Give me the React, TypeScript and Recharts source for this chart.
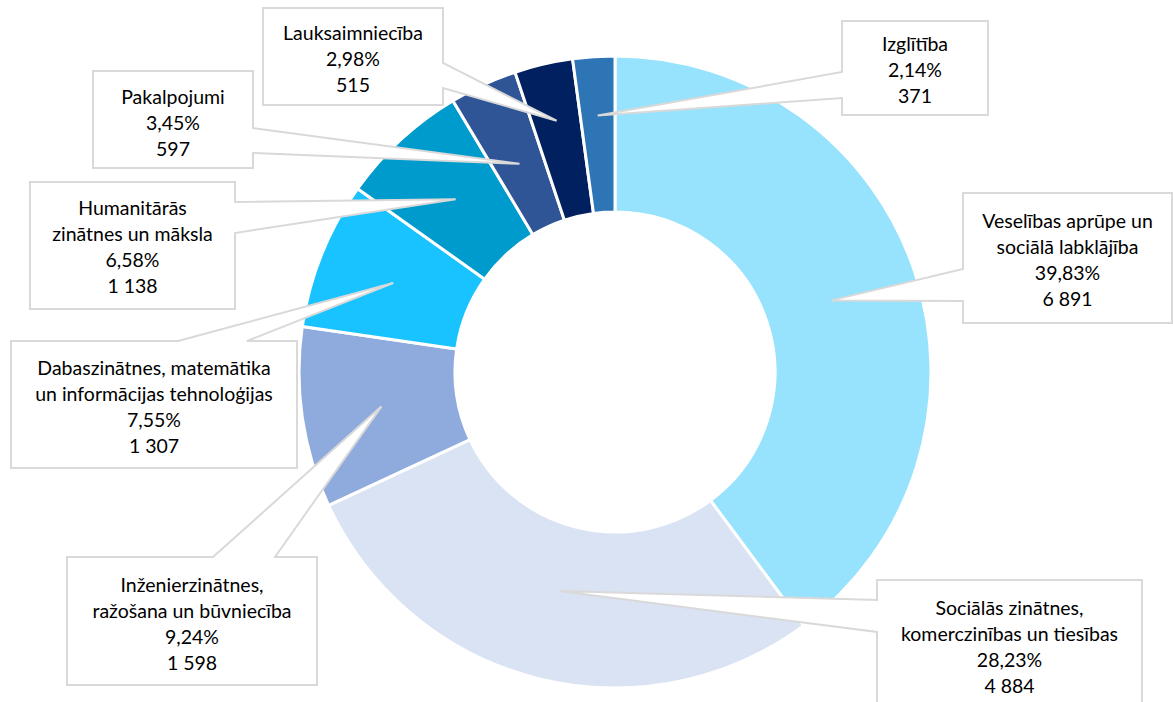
import { PieChart, Pie, Cell } from "recharts";

const categories = [
  "Veselības aprūpe un sociālā labklājība",
  "Sociālās zinātnes, komerczinības un tiesības",
  "Inženierzinātnes, ražošana un būvniecība",
  "Dabaszinātnes, matemātika un informācijas tehnoloģijas",
  "Humanitārās zinātnes un māksla",
  "Pakalpojumi",
  "Lauksaimniecība",
  "Izglītība",
];

const students = [6891, 4884, 1598, 1307, 1138, 597, 515, 371];

// how each category name wraps inside its callout box
const nameLines = [
  ["Veselības aprūpe un", "sociālā labklājība"],
  ["Sociālās zinātnes,", "komerczinības un tiesības"],
  ["Inženierzinātnes,", "ražošana un būvniecība"],
  ["Dabaszinātnes, matemātika", "un informācijas tehnoloģijas"],
  ["Humanitārās", "zinātnes un māksla"],
  ["Pakalpojumi"],
  ["Lauksaimniecība"],
  ["Izglītība"],
];

const colors = ["#97E2FC", "#DAE3F3", "#8FAADC", "#19C3FF", "#009BCD", "#2F5597", "#002060", "#2E75B6"];

type Side = "left" | "right" | "top";

interface CalloutBox {
  x0: number;
  y0: number;
  x1: number;
  y1: number;
  side: Side;
  b1: number;
  b2: number;
  tipR: number;
  textY: number;
}

// callout box placement (Excel-style data callouts)
const boxes: CalloutBox[] = [
  { x0: 963, y0: 193, x1: 1172, y1: 323, side: "left", b1: 269, b2: 301, tipR: 228, textY: 220 },
  { x0: 877, y0: 580, x1: 1142, y1: 712, side: "left", b1: 600, b2: 632, tipR: 226, textY: 607 },
  { x0: 67, y0: 557, x1: 317, y1: 685, side: "top", b1: 213, b2: 275, tipR: 236, textY: 584 },
  { x0: 11, y0: 341, x1: 297, y1: 468, side: "top", b1: 178, b2: 247, tipR: 239, textY: 367 },
  { x0: 30, y0: 182, x1: 235, y1: 309, side: "right", b1: 202, b2: 233, tipR: 235, textY: 207 },
  { x0: 93, y0: 71, x1: 253, y1: 168, side: "right", b1: 128, b2: 153, tipR: 229, textY: 96 },
  { x0: 263, y0: 8, x1: 443, y1: 105, side: "right", b1: 63, b2: 88, tipR: 258, textY: 32 },
  { x0: 842, y0: 21, x1: 988, y1: 115, side: "left", b1: 72, b2: 98, tipR: 257, textY: 43 },
];

const total = students.reduce((a, b) => a + b, 0);
const data = categories.map((name, i) => ({ name, value: students[i] }));

const fmtPct = (v: number) => ((v / total) * 100).toFixed(2).replace(".", ",") + "%";
const fmtNum = (v: number) => String(v).replace(/\B(?=(\d{3})+(?!\d))/g, " ");

function calloutPath(b: CalloutBox, tx: number, ty: number) {
  const { x0, y0, x1, y1, b1, b2 } = b;
  if (b.side === "right") {
    return `M${x0},${y0} L${x1},${y0} L${x1},${b1} L${tx},${ty} L${x1},${b2} L${x1},${y1} L${x0},${y1} Z`;
  }
  if (b.side === "left") {
    return `M${x0},${y0} L${x1},${y0} L${x1},${y1} L${x0},${y1} L${x0},${b2} L${tx},${ty} L${x0},${b1} Z`;
  }
  return `M${x0},${y0} L${b1},${y0} L${tx},${ty} L${b2},${y0} L${x1},${y0} L${x1},${y1} L${x0},${y1} Z`;
}

const RAD = Math.PI / 180;

function renderCallout(props: any) {
  const { cx, cy, midAngle, index, value } = props;
  const box = boxes[index];
  const tx = cx + box.tipR * Math.cos(-midAngle * RAD);
  const ty = cy + box.tipR * Math.sin(-midAngle * RAD);
  const lines = [...nameLines[index], fmtPct(value), fmtNum(value)];
  const mid = (box.x0 + box.x1) / 2;
  return (
    <g key={`callout-${index}`}>
      <path d={calloutPath(box, tx, ty)} fill="#FFFFFF" stroke="#D9D9D9" strokeWidth={2} strokeLinejoin="miter" />
      {lines.map((line, i) => (
        <text
          key={i}
          x={mid}
          y={box.textY + i * 26}
          textAnchor="middle"
          dominantBaseline="central"
          fontFamily="Lato, 'Open Sans', sans-serif"
          fontSize={19.5}
          fill="#000000"
        >
          {line}
        </text>
      ))}
    </g>
  );
}

export default function App() {
  return (
    <div style={{ position: "absolute", left: 0, top: 0, width: 1173, height: 702, background: "#fff" }}>
      <PieChart width={1173} height={702} margin={{ top: 0, right: 0, bottom: 0, left: 0 }}>
        <Pie
          data={data}
          dataKey="value"
          nameKey="name"
          cx={615}
          cy={372}
          innerRadius={160}
          outerRadius={316}
          startAngle={90}
          endAngle={-270}
          stroke="#FFFFFF"
          strokeWidth={3}
          labelLine={false}
          label={renderCallout}
          isAnimationActive={false}
        >
          {data.map((item, index) => (
            <Cell key={`cell-${index}`} fill={colors[index]} />
          ))}
        </Pie>
      </PieChart>
    </div>
  );
}
